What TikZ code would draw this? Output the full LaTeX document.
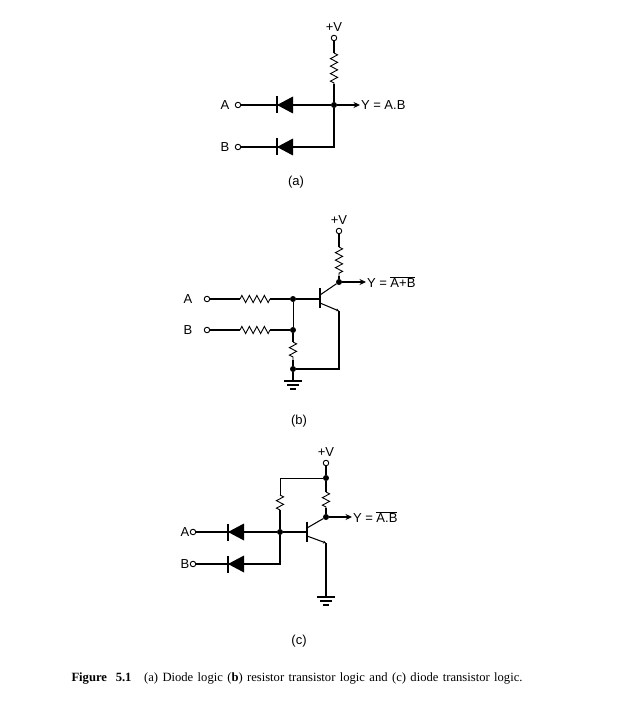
\documentclass[tikz,border=0pt]{standalone}
\usepackage{fontspec}
\setmainfont{Liberation Sans}
\newfontfamily\capfont{Liberation Serif}
\usetikzlibrary{arrows.meta,decorations.pathmorphing}
\tikzset{
  term/.style={circle,draw,fill=white,line width=0.9pt,minimum size=5.5pt,inner sep=0,outer sep=0},
  junc/.style={circle,fill,minimum size=6pt,inner sep=0,outer sep=0},
  txt/.style={inner sep=0,outer sep=0,font=\fontsize{13}{15}\selectfont},
  outlabel/.style={txt,anchor=west,inner sep=1pt},
  res/.style={line width=0.9pt,decorate,decoration={zigzag,segment length=7.5pt,amplitude=3.6pt}},
  wire/.style={line width=1.05pt},
  arr/.style={wire,-{Stealth[length=6.5pt,width=6pt]}},
  thin wire/.style={line width=0.8pt},
  diode/.pic={
    \fill (-8,0) -- (8,-8.5) -- (8,8.5) -- cycle;
    \draw[line width=1.5pt] (-8,-8.5) -- (-8,8.5);
  },
  gnd/.pic={
    \draw[line width=1.2pt] (-9,0) -- (9,0);
    \draw[line width=1.2pt] (-6,4) -- (6,4);
    \draw[line width=1.2pt] (-3,8) -- (3,8);
  }
}
\begin{document}
\begin{tikzpicture}[x=1pt,y=-1pt,wire]
\useasboundingbox (0,0) rectangle (624,703);

% circuit (a)
\node[term,label={[txt,label distance=4pt]above:+V}] (VA) at (334,38) {};
\node[term,label={[txt,label distance=6pt]left:A}] (INA1) at (238,105) {};
\node[term,label={[txt,label distance=6pt]left:B}] (INB1) at (238,147) {};
\node[junc] (JA) at (334,105) {};
\node[outlabel] (YA) at (360,105) {Y = A.B};
\coordinate (RA1) at (334,53);
\coordinate (RA2) at (334,84);
\coordinate (CA) at (334,147);
\draw (VA) -- (RA1);
\draw[res] (RA1) -- (RA2);
\draw (RA2) -- (JA);
\draw (INA1) -- (JA);
\draw (INB1) -- (CA) -- (JA);
\draw[arr] (JA) -- (YA);
\pic at (285,105) {diode};
\pic at (285,147) {diode};
\node[txt] (LA) at (296,182) {(a)};

% circuit (b)
\node[term,label={[txt,label distance=4pt]above:+V}] (VB) at (339,231) {};
\node[term,label={[txt,label distance=12pt]left:A}] (INA2) at (207,299) {};
\node[term,label={[txt,label distance=12pt]left:B}] (INB2) at (207,330) {};
\node[junc] (JB1) at (339,282) {};
\node[junc] (JB2) at (293,299) {};
\node[junc] (JB3) at (293,330) {};
\node[junc] (JB4) at (293,369) {};
\node[outlabel] (YB) at (366,282) {Y = $\overline{\mbox{A+B}}$};
\coordinate (RB1) at (339,247);
\coordinate (RB2) at (339,276);
\coordinate (RB3) at (240,299);
\coordinate (RB4) at (270,299);
\coordinate (RB5) at (240,330);
\coordinate (RB6) at (270,330);
\coordinate (RB7) at (293,342);
\coordinate (RB8) at (293,360);
\coordinate (QB) at (320,299);
\coordinate (QBc) at (320,295);
\coordinate (QBe) at (320,303);
\coordinate (EB) at (339,311);
\coordinate (CB) at (339,369);
\coordinate (GB) at (293,381);
\draw (VB) -- (RB1);
\draw[res] (RB1) -- (RB2);
\draw (RB2) -- (JB1);
\draw (INA2) -- (RB3);
\draw[res] (RB3) -- (RB4);
\draw (RB4) -- (JB2) -- (QB);
\draw (INB2) -- (RB5);
\draw[res] (RB5) -- (RB6);
\draw (RB6) -- (JB3);
\draw[thin wire] (JB2) -- (JB3);
\draw (JB3) -- (RB7);
\draw[res] (RB7) -- (RB8);
\draw (RB8) -- (JB4) -- (GB);
\draw (JB4) -- (CB) -- (EB);
\draw[line width=1.7pt] (320,288) -- (320,308);
\draw (QBc) -- (JB1);
\draw[-{Stealth[length=3pt,width=3pt]}] (QBe) -- (EB);
\draw[arr] (JB1) -- (YB);
\pic at (GB) {gnd};
\node[txt] (LB) at (299,421) {(b)};

% circuit (c)
\node[term,label={[txt,label distance=4pt]above:+V}] (VC) at (326,463) {};
\node[term,label={[txt,label distance=1pt]left:A}] (INA3) at (193,532) {};
\node[term,label={[txt,label distance=1pt]left:B}] (INB3) at (193,564) {};
\node[junc] (JC1) at (326,478) {};
\node[junc] (JC2) at (326,517) {};
\node[junc] (JC3) at (280,532) {};
\node[outlabel] (YC) at (352,517) {Y = $\overline{\mbox{A.B}}$};
\coordinate (TC) at (280,478);
\coordinate (RC1) at (326,492);
\coordinate (RC2) at (326,508);
\coordinate (RC3) at (280,495);
\coordinate (RC4) at (280,510);
\coordinate (QC) at (307,532);
\coordinate (QCc) at (307,528);
\coordinate (QCe) at (307,536);
\coordinate (EC) at (326,543);
\coordinate (CC) at (280,564);
\coordinate (GC) at (326,597);
\draw (VC) -- (JC1) -- (RC1);
\draw[res] (RC1) -- (RC2);
\draw (RC2) -- (JC2);
\draw[thin wire] (JC1) -- (TC) -- (RC3);
\draw[res] (RC3) -- (RC4);
\draw (RC4) -- (JC3);
\draw (INA3) -- (JC3) -- (QC);
\draw (INB3) -- (CC) -- (JC3);
\draw[line width=1.7pt] (307,522) -- (307,542);
\draw (QCc) -- (JC2);
\draw[-{Stealth[length=3pt,width=3pt]}] (QCe) -- (EC);
\draw (EC) -- (GC);
\draw[arr] (JC2) -- (YC);
\pic at (236,532) {diode};
\pic at (236,564) {diode};
\pic at (GC) {gnd};
\node[txt] (LC) at (299,641) {(c)};

% caption
\node[anchor=west,inner sep=0,font=\capfont\fontsize{12.6}{14}\selectfont] (CAP) at (71,679)
  {\spaceskip=4.4pt\textbf{Figure\ \ 5.1}\quad (a) Diode logic (\textbf{b}) resistor transistor logic and (c) diode transistor logic.};
\end{tikzpicture}
\end{document}
